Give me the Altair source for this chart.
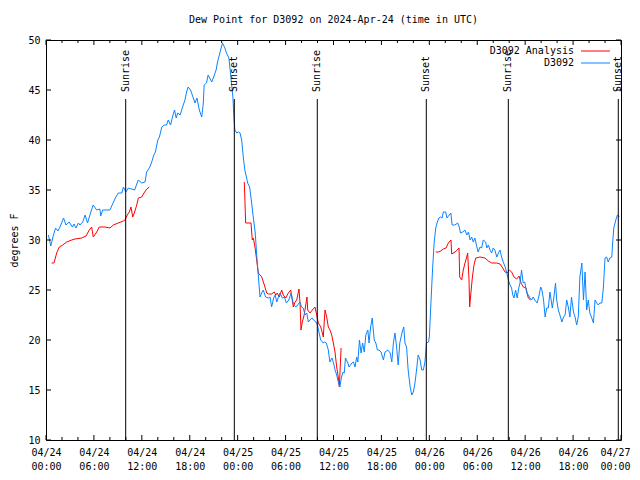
import altair as alt
import pandas as pd

FONT = "DejaVu Sans Mono"
TITLE = "Dew Point for D3092 on 2024-Apr-24 (time in UTC)"
Y_TITLE = "degrees F"
START = "2024-04-24T00:00:00Z"

# ---- D3092 observations (hours after 04/24 00:00 UTC, degrees F)
blue_hours = [0.3, 0.6, 0.9, 1.2, 1.5, 1.75, 2.2, 2.5, 2.9, 3.3, 3.5, 3.75, 4.05, 4.25, 4.6, 4.9, 5.2, 5.5, 5.9, 6.35,
              6.75, 6.85, 7.1, 8.0, 8.4, 8.75, 9.05, 9.5, 9.7, 10.0, 10.3, 11.1, 11.55, 12.0, 12.4, 12.6, 13.0, 13.2, 13.5, 13.7,
              14.0, 14.2, 14.5, 14.8, 15.1, 15.3, 15.6, 15.9, 16.1, 16.3, 16.5, 16.8, 17.1, 17.4, 17.6, 17.8, 18.1, 18.4, 18.65, 18.9,
              19.2, 19.5, 19.7, 19.8, 20.1, 20.3, 20.5, 20.75, 20.95, 21.3, 21.45, 21.8, 22.1, 22.4, 22.6, 22.9, 23.1, 23.4, 23.55, 23.65,
              23.9, 24.1, 24.3, 24.5, 24.7, 24.9, 25.1, 25.25, 25.5, 25.75, 25.95, 26.2, 26.4, 26.6, 26.8, 27.0, 27.2, 27.5, 27.85, 28.05,
              28.25, 28.5, 28.7, 28.9, 29.1, 29.3, 29.6, 29.85, 30.1, 30.4, 30.7, 31.0, 31.3, 31.5, 31.8, 32.0, 32.2, 32.45, 32.65, 32.85,
              33.05, 33.3, 33.5, 33.8, 34.0, 34.2, 34.4, 34.7, 34.9, 35.1, 35.35, 35.55, 35.8, 36.0, 36.2, 36.4, 36.6, 36.8, 37.0, 37.2,
              37.35, 37.5, 37.8, 37.95, 38.3, 38.5, 38.7, 38.9, 39.05, 39.25, 39.45, 39.65, 39.85, 40.05, 40.3, 40.45, 40.65, 40.85, 41.1, 41.3,
              41.5, 41.7, 41.95, 42.25, 42.45, 42.8, 43.1, 43.3, 43.5, 43.7, 43.9, 44.1, 44.3, 44.6, 44.8, 44.95, 45.15, 45.35, 45.6, 45.8,
              46.0, 46.2, 46.4, 46.6, 46.85, 47.05, 47.25, 47.45, 47.65, 47.9, 48.0, 48.2, 48.4, 48.6, 48.8, 49.0, 49.2, 49.4, 49.6, 49.75,
              50.05, 50.2, 50.5, 50.7, 50.85, 51.2, 51.55, 51.75, 51.9, 52.2, 52.45, 52.7, 52.9, 53.1, 53.3, 53.5, 53.7, 53.9, 54.1, 54.35,
              54.55, 54.75, 55.05, 55.2, 55.4, 55.6, 55.8, 56.0, 56.2, 56.45, 56.65, 56.85, 57.05, 57.25, 57.5, 57.7, 57.9, 58.1, 58.3, 58.45,
              58.6, 58.8, 59.0, 59.2, 59.35, 59.55, 59.75, 59.95, 60.2, 60.4, 60.6, 60.8, 61.0, 61.2, 61.5, 61.7, 61.95, 62.1, 62.3, 62.5,
              62.7, 62.9, 63.1, 63.25, 63.4, 63.6, 63.8, 63.95, 64.15, 64.35, 64.6, 64.8, 65.0, 65.2, 65.4, 65.6, 65.8, 66.05, 66.25, 66.45,
              66.65, 66.85, 67.1, 67.3, 67.5, 67.7, 67.9, 68.1, 68.3, 68.55, 68.75, 68.95, 69.15, 69.35, 69.6, 69.8, 70.0, 70.2, 70.4, 70.6,
              70.85, 70.95, 71.1, 71.35, 71.55, 71.8]
blue_values = [30.5, 29.4, 30.4, 31.2, 30.9, 31.3, 32.2, 31.5, 31.8, 31.3, 31.6, 31.2, 31.7, 31.5, 31.8, 32.5, 31.7, 32.5, 33.5, 33.0,
               33.1, 32.4, 33.0, 33.0, 33.7, 34.3, 34.7, 34.7, 35.3, 34.8, 35.2, 35.0, 36.0, 35.7, 35.8, 36.8, 37.3, 37.7, 38.5, 38.8,
               40.0, 40.3, 41.3, 41.5, 41.5, 42.0, 41.5, 42.5, 43.0, 42.2, 42.7, 42.5, 43.3, 44.0, 44.8, 45.3, 45.0, 44.3, 43.7, 44.2,
               43.0, 42.3, 43.7, 45.5, 45.7, 46.5, 46.2, 45.8, 46.2, 47.0, 47.7, 48.8, 49.7, 49.2, 48.7, 48.2, 46.7, 44.3, 42.0, 41.0,
               40.7, 40.8, 40.7, 40.0, 38.3, 37.0, 36.3, 35.7, 35.3, 33.7, 32.3, 30.7, 28.3, 26.3, 24.3, 24.7, 25.0, 24.3, 24.2, 24.3,
               23.3, 24.2, 24.5, 23.8, 24.3, 24.7, 24.2, 24.3, 23.7, 24.0, 24.7, 23.5, 23.3, 23.5, 23.8, 23.3, 23.2, 22.5, 22.7, 21.8,
               22.0, 22.2, 22.0, 21.8, 21.5, 20.7, 20.0, 19.7, 19.8, 19.7, 19.0, 17.8, 18.2, 17.7, 17.0, 16.5, 15.8, 15.3, 16.3, 16.8,
               16.7, 18.2, 17.7, 17.3, 17.7, 17.8, 17.3, 18.3, 17.8, 20.0, 18.7, 19.7, 18.8, 20.5, 21.0, 19.7, 21.3, 22.2, 20.0, 19.7,
               19.0, 19.0, 18.8, 18.0, 18.8, 19.0, 18.7, 17.8, 19.7, 20.7, 19.3, 17.5, 19.7, 20.8, 21.3, 19.7, 19.3, 17.0, 15.3, 14.5,
               14.8, 15.7, 17.0, 18.5, 18.0, 17.0, 17.0, 17.8, 19.7, 19.8, 20.3, 23.7, 27.0, 29.7, 31.2, 31.8, 32.2, 32.3, 32.2, 32.8,
               32.8, 32.2, 32.5, 32.7, 31.5, 31.5, 31.7, 31.3, 30.7, 30.8, 31.0, 30.5, 30.8, 30.0, 30.3, 29.8, 30.2, 29.5, 28.8, 29.3,
               29.2, 30.0, 29.8, 29.2, 29.5, 29.0, 28.7, 29.2, 29.0, 28.3, 28.7, 29.0, 28.3, 27.8, 27.3, 26.7, 26.0, 25.5, 25.2, 24.5,
               24.2, 25.0, 24.2, 25.2, 25.7, 27.0, 25.7, 25.8, 24.7, 24.5, 24.2, 24.0, 24.3, 24.0, 23.7, 24.3, 25.3, 25.0, 24.0, 22.3,
               23.2, 23.2, 24.8, 24.0, 23.2, 24.3, 25.7, 24.0, 23.0, 22.5, 21.8, 22.3, 22.5, 24.0, 23.3, 22.3, 24.3, 22.8, 22.3, 21.5,
               22.3, 26.3, 27.7, 24.0, 26.8, 23.0, 24.0, 22.7, 22.3, 21.7, 24.0, 23.7, 23.5, 23.7, 23.7, 25.3, 28.2, 28.3, 27.8, 28.2,
               28.3, 29.7, 31.2, 32.0, 32.5, 32.3]

# ---- D3092 Analysis (three runs with gaps between them)
red1_hours = [0.71, 1.0, 1.34, 1.67, 2.09, 2.59, 3.22, 3.63, 4.47, 5.01, 5.42, 5.72, 5.92, 6.35, 6.67, 7.39, 8.01, 8.43, 9.05, 9.68,
              9.89, 10.18, 10.43, 10.64, 10.86, 11.06, 11.36, 11.56, 11.98, 12.27, 12.61, 12.94]
red1_values = [27.7, 27.7, 28.7, 29.3, 29.5, 29.8, 30.0, 30.1, 30.2, 30.4, 31.0, 31.3, 30.3, 30.8, 31.3, 31.3, 31.2, 31.5, 31.7, 31.9,
               32.0, 32.5, 32.8, 33.3, 32.3, 32.7, 33.5, 34.2, 34.3, 34.7, 35.1, 35.3]
red2_hours = [24.83, 24.92, 25.0, 25.67, 25.83, 25.96, 26.17, 26.38, 26.58, 26.8, 27.01, 27.34, 27.64, 27.84, 28.26, 28.59, 28.76, 28.96,
              29.21, 29.51, 29.71, 30.01, 30.34, 30.64, 30.97, 31.18, 31.39, 31.68, 31.81, 31.93, 32.09, 32.27, 32.43, 32.68, 32.77,
              33.06, 33.35, 33.68, 33.9, 34.1, 34.4, 34.6, 34.72, 34.94, 35.15, 35.35, 35.56, 35.78, 35.98, 36.19, 36.4, 36.6, 36.73, 36.95]
red2_values = [35.8, 33.7, 31.7, 31.7, 30.0, 30.2, 29.3, 28.0, 26.7, 26.5, 26.3, 25.5, 24.7, 24.6, 24.6, 24.8, 24.5, 24.7,
               24.3, 25.0, 24.5, 24.2, 24.7, 25.0, 23.3, 23.8, 24.0, 25.1, 23.7, 21.0, 21.8, 22.3, 23.0, 24.3, 23.0,
               22.7, 23.0, 23.3, 22.5, 21.7, 21.3, 20.7, 20.3, 23.0, 22.3, 21.3, 21.0, 20.5, 19.7, 18.8, 17.3, 16.3, 15.3, 19.2]
red3_hours = [48.8, 49.12, 49.42, 49.75, 50.09, 50.38, 50.71, 50.8, 51.21, 51.5, 51.72, 51.8, 52.05, 52.25, 52.47, 52.68, 52.8, 52.97,
              53.05, 53.18, 53.38, 53.59, 53.81, 54.35, 54.97, 55.39, 55.81, 56.44, 56.85, 57.19, 57.48, 57.76, 58.01, 58.31, 58.6,
              58.94, 59.23, 59.48, 59.77, 60.11, 60.39, 60.69]
red3_values = [28.8, 28.8, 28.9, 29.1, 29.2, 29.7, 30.0, 28.6, 28.8, 29.0, 29.2, 26.3, 26.0, 27.0, 27.7, 28.3, 28.7, 26.0,
               23.3, 24.5, 26.2, 27.5, 28.2, 28.3, 28.2, 27.9, 27.7, 27.7, 27.6, 27.2, 26.8, 26.7, 27.0, 26.8, 26.3,
               26.1, 26.4, 25.7, 25.3, 25.2, 24.2, 24.0]

# ---- sunrise / sunset markers
sun_hours = [9.98, 23.58, 33.97, 47.62, 57.89, 71.66]
sun_labels = ["Sunrise", "Sunset", "Sunrise", "Sunset", "Sunrise", "Sunset"]

# ---- axes
x_major_hours = [0, 6, 12, 18, 24, 30, 36, 42, 48, 54, 60, 66, 72]
x_minor_hours = [2, 4, 8, 10, 14, 16, 20, 22, 26, 28, 32, 34, 38, 40, 44, 46, 50, 52, 56, 58, 62, 64, 68, 70]
y_ticks = [10, 15, 20, 25, 30, 35, 40, 45, 50]
series_names = ["D3092 Analysis", "D3092"]
series_colors = ["#ff0000", "#0a84ff"]

base = pd.Timestamp(START)


def iso(hours):
    return [(base + pd.Timedelta(hours=h)).strftime("%Y-%m-%dT%H:%M:%SZ") for h in hours]


def dt(h):
    return alt.DateTime(year=2024, month=4, date=24 + int(h) // 24, hours=int(h) % 24, utc=True)


frames = [
    pd.DataFrame({"t": iso(red1_hours), "v": red1_values, "series": series_names[0], "seg": "r1"}),
    pd.DataFrame({"t": iso(red2_hours), "v": red2_values, "series": series_names[0], "seg": "r2"}),
    pd.DataFrame({"t": iso(red3_hours), "v": red3_values, "series": series_names[0], "seg": "r3"}),
    pd.DataFrame({"t": iso(blue_hours), "v": blue_values, "series": series_names[1], "seg": "b"}),
]
lines_df = pd.concat(frames, ignore_index=True)
sun_df = pd.DataFrame({"t": iso(sun_hours), "label": sun_labels})
xmaj_df = pd.DataFrame({"t": iso(x_major_hours)})
xmin_df = pd.DataFrame({"t": iso(x_minor_hours)})
ytk_df = pd.DataFrame({"v": y_ticks})

W, H = 575, 400

xscale = alt.Scale(type="utc", domain=[dt(0), dt(72)])
yscale = alt.Scale(domain=[10, 50], nice=False)
cscale = alt.Scale(domain=series_names, range=series_colors)

x_axis = alt.Axis(
    title=None,
    values=[dt(h) for h in x_major_hours],
    labelExpr="[utcFormat(datum.value, '%m/%d'), utcFormat(datum.value, '%H:%M')]",
    labelLineHeight=14,
    labelPadding=7,
    labelFlush=False,
    labelOverlap=False,
    labelBaseline="top",
    labelOffset={"condition": {"test": "datum.index > 0.99", "value": -6}, "value": 0},
)
y_axis = alt.Axis(
    title=Y_TITLE,
    values=y_ticks,
    labelPadding=6,
    titleAngle=270,
    titleX=-32,
    titleY=H / 2,
    titleAlign="center",
    titleBaseline="middle",
)

lines = alt.Chart(lines_df).mark_line(strokeWidth=1).encode(
    x=alt.X("t:T", scale=xscale, axis=x_axis),
    y=alt.Y("v:Q", scale=yscale, axis=y_axis),
    color=alt.Color("series:N", scale=cscale, legend=None),
    detail="seg:N",
)

sun_rules = alt.Chart(sun_df).mark_rule(color="black", strokeWidth=1).encode(
    x=alt.X("t:T", scale=xscale), y=alt.value(59), y2=alt.value(H)
)
sun_text = alt.Chart(sun_df).mark_text(
    angle=270, align="left", baseline="middle", font=FONT, fontSize=10, color="black"
).encode(x=alt.X("t:T", scale=xscale), y=alt.value(52), text="label:N")

tick_layers = []
for df_, ln in ((xmaj_df, 5), (xmin_df, 3)):
    tick_layers.append(alt.Chart(df_).mark_rule(color="black").encode(
        x=alt.X("t:T", scale=xscale), y=alt.value(H), y2=alt.value(H - ln)))
    tick_layers.append(alt.Chart(df_).mark_rule(color="black").encode(
        x=alt.X("t:T", scale=xscale), y=alt.value(0), y2=alt.value(ln)))
tick_layers.append(alt.Chart(ytk_df).mark_rule(color="black").encode(
    y=alt.Y("v:Q", scale=yscale), x=alt.value(0), x2=alt.value(5)))
tick_layers.append(alt.Chart(ytk_df).mark_rule(color="black").encode(
    y=alt.Y("v:Q", scale=yscale), x=alt.value(W), x2=alt.value(W - 5)))

legend_layers = []
for i, (name, col) in enumerate(zip(series_names, series_colors)):
    ldf = pd.DataFrame({"series": [name]})
    yy = 11 + 12 * i
    legend_layers.append(alt.Chart(ldf).mark_text(
        align="right", baseline="middle", font=FONT, fontSize=10, color="black"
    ).encode(x=alt.value(528), y=alt.value(yy), text="series:N"))
    legend_layers.append(alt.Chart(ldf).mark_rule(strokeWidth=1).encode(
        x=alt.value(535), x2=alt.value(564), y=alt.value(yy),
        color=alt.Color("series:N", scale=cscale, legend=None)))

chart = alt.layer(lines, sun_rules, sun_text, *tick_layers, *legend_layers).properties(
    width=W,
    height=H,
    title=alt.TitleParams(TITLE, anchor="middle", font=FONT, fontSize=10, fontWeight="normal", color="black", offset=10),
    autosize=alt.AutoSizeParams(type="none"),
    padding={"left": 38, "top": 32, "right": 11, "bottom": 32},
).configure_view(
    stroke="black", strokeWidth=1
).configure_axis(
    grid=False, domain=False, ticks=False,
    labelFont=FONT, labelFontSize=10, labelColor="black",
    titleFont=FONT, titleFontSize=10, titleFontWeight="normal", titleColor="black",
)

chart.save("out.html", embed_options={"renderer": "svg", "actions": False})
